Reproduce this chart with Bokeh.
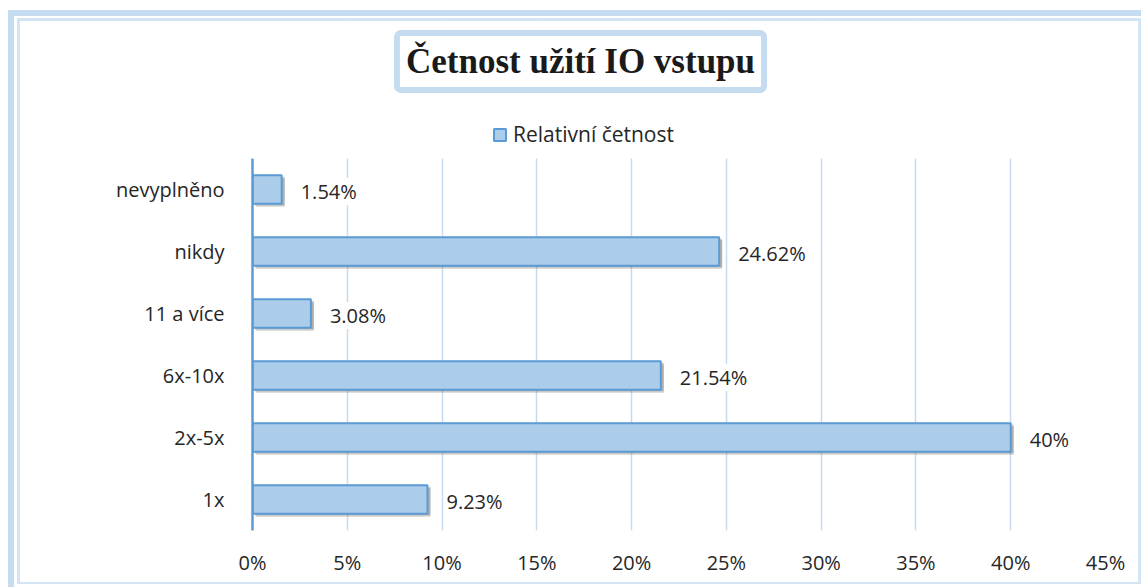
from bokeh.plotting import figure
from bokeh.models import (ColumnDataSource, Range1d, LabelSet, Label, BoxAnnotation,
                          Legend, LegendItem, PrintfTickFormatter, FixedTicker)
from bokeh.core.properties import value
from bokeh.embed import file_html
from bokeh.resources import INLINE

# ---- data ----
categories = ["1x", "2x-5x", "6x-10x", "11 a více", "nikdy", "nevyplněno"]
values = [9.23, 40.0, 21.54, 3.08, 24.62, 1.54]
value_labels = ["9.23%", "40%", "21.54%", "3.08%", "24.62%", "1.54%"]
x_ticks = [0, 5, 10, 15, 20, 25, 30, 35, 40, 45]
title_text = "Četnost užití IO vstupu"
series_name = "Relativní četnost"

# ---- layout ----
W, H = 1141, 587
ML, MR, MT, MB = 252, 36, 22, 57
CAT_TOP_PX = 158                      # canvas y where the category area starts
XMAX = 45
n = len(categories)
frame_h = H - MT - MB
px_per_cat = (H - CAT_TOP_PX - MB) / n
px_per_x = (W - ML - MR) / XMAX
y_lo = -0.5
y_hi = y_lo + frame_h / px_per_cat
sh_dx = 3 / px_per_x
sh_dy = 3 / px_per_cat

FONT = "Open Sans"
TXT = "#262626"
BAR_FILL = "#abcde9"
BAR_LINE = "#5b9bd5"
GRID = "#c5dcf0"

ypos = list(range(n))
src = ColumnDataSource(dict(
    y=ypos,
    y_sh=[v - sh_dy for v in ypos],
    y_sh2=[v - sh_dy * 0.5 for v in ypos],
    val=values,
    lab=value_labels,
    sh_left=[sh_dx] * n,
    sh_right=[v + sh_dx for v in values],
))

frame_css = {
    "background-color": "white",
    "background-image": ", ".join(["linear-gradient(#c5dcf0, #c5dcf0)"] * 2
                                  + ["linear-gradient(#d3e4f4, #d3e4f4)"] * 4),
    "background-position": "8px 10px, 8px 10px, 17px 18px, 17px 18px, 1138px 18px, 17px 582px",
    "background-size": "6px 577px, 1133px 6px, 3px 566px, 1123px 3px, 3px 566px, 1124px 2px",
    "background-repeat": "no-repeat",
}

p = figure(width=W, height=H,
           y_range=Range1d(y_lo, y_hi),
           x_range=Range1d(0, XMAX),
           output_backend="svg", toolbar_location=None,
           min_border_left=ML, min_border_right=MR,
           min_border_top=MT, min_border_bottom=MB,
           background_fill_color="white", border_fill_color=None,
           styles=frame_css)
p.outline_line_color = None

# bar shadows
p.hbar(y="y_sh", left="sh_left", right="sh_right",
       height=0.46, fill_color="#555555", fill_alpha=0.25, line_color=None, source=src)
p.hbar(y="y_sh2", left="sh_left", right="sh_right",
       height=0.46, fill_color="#444444", fill_alpha=0.25, line_color=None, source=src)
bars = p.hbar(y="y", left=0, right="val", height=0.46,
              fill_color=BAR_FILL, line_color=BAR_LINE, line_width=2, source=src)

# data labels
p.add_layout(LabelSet(x="val", y="y", text="lab", source=src,
                      x_offset=19, y_offset=-2,
                      text_font=value(FONT), text_font_size="20px", text_color=TXT,
                      text_baseline="middle", text_align="left",
                      background_fill_color="white"))

# axes
p.xaxis.ticker = FixedTicker(ticks=x_ticks)
p.xaxis.formatter = PrintfTickFormatter(format="%d%%")
p.xaxis.axis_line_color = None
p.xaxis.major_tick_line_color = None
p.xaxis.minor_tick_line_color = None
p.xaxis.major_label_standoff = 12
p.xaxis.major_label_text_font = FONT
p.xaxis.major_label_text_font_size = "20px"
p.xaxis.major_label_text_color = TXT

p.yaxis.ticker = FixedTicker(ticks=ypos)
p.yaxis.major_label_overrides = {i: c for i, c in zip(ypos, categories)}
p.yaxis.bounds = (y_lo, n - 0.5)
p.yaxis.axis_line_color = BAR_LINE
p.yaxis.axis_line_width = 2.5
p.yaxis.major_tick_line_color = None
p.yaxis.minor_tick_line_color = None
p.yaxis.major_label_standoff = 22
p.yaxis.major_label_text_font = FONT
p.yaxis.major_label_text_font_size = "20px"
p.yaxis.major_label_text_color = TXT

p.xgrid.grid_line_color = GRID
p.xgrid.grid_line_width = 1.5
p.ygrid.grid_line_color = None

# blank header area above the category bands (hides grid there)
p.add_layout(BoxAnnotation(bottom=n - 0.5, fill_color="white", fill_alpha=1,
                           line_color=None))

# title box
p.add_layout(Label(x=580 - ML, y=(H - MB) - 61, x_units="screen", y_units="screen",
                   text=title_text, text_font="Liberation Serif", text_font_style="bold",
                   text_font_size="35px", text_color="#1a1a1a",
                   text_align="center", text_baseline="middle",
                   background_fill_color="white", border_line_color="#c5dcf0",
                   border_line_width=6, padding=9, border_radius=4))

# legend
legend = Legend(items=[LegendItem(label=series_name, renderers=[bars])],
                location=(240, (H - MB) - 148), orientation="horizontal",
                padding=9, margin=0, spacing=0,
                glyph_width=15, glyph_height=15, label_standoff=6,
                label_text_font=FONT, label_text_font_size="21px", label_text_color=TXT,
                background_fill_color="white", border_line_color=None)
p.add_layout(legend)

open("out.html", "w").write(file_html(p, INLINE))
